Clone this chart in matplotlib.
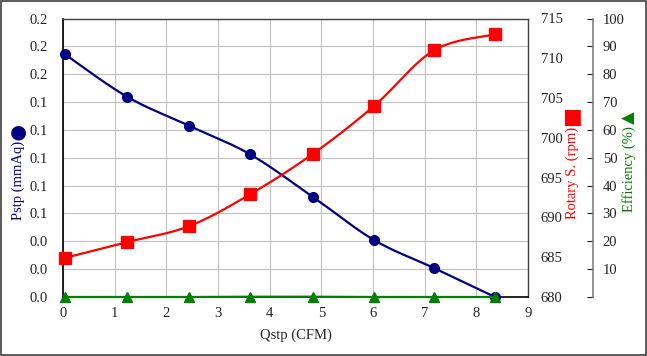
import numpy as np
import matplotlib
matplotlib.use("Agg")
import matplotlib.pyplot as plt
from matplotlib.patches import Rectangle

plt.rcParams['font.family'] = ['Liberation Serif', 'DejaVu Sans']
plt.rcParams['font.size'] = 10.5

# ---- data ----
qstp = [0.03, 1.24, 2.44, 3.62, 4.84, 6.02, 7.18, 8.36]
pstp = [0.1745, 0.1438, 0.1230, 0.1025, 0.0718, 0.0409, 0.0208, 0.0]
rpm = [684.9, 686.9, 688.9, 692.9, 698.0, 704.0, 711.0, 713.0]
eff = [0.0, 0.0, 0.0, 0.1, 0.1, 0.0, 0.0, 0.0]
x_ticks = list(range(0, 10))
p_ticks = [round(0.02 * i, 2) for i in range(11)]
rpm_ticks = list(range(680, 716, 5))
eff_ticks = list(range(0, 101, 10))

BLUE = '#000080'
RED = '#FF0000'
GREEN = '#008000'


def smooth(x, y, xr, yr, n=30):
    """Bezier smoothing (Excel-like) through the data points."""
    x = np.asarray(x, float) / xr
    y = np.asarray(y, float) / yr
    P = np.column_stack([x, y])
    out = [P[0]]
    for i in range(len(P) - 1):
        p0 = P[i - 1] if i > 0 else P[i]
        p1 = P[i]
        p2 = P[i + 1]
        p3 = P[i + 2] if i + 2 < len(P) else P[i + 1]
        c1 = p1 + (p2 - p0) / 6.0
        c2 = p2 - (p3 - p1) / 6.0
        t = np.linspace(0, 1, n)[1:, None]
        seg = ((1 - t) ** 3) * p1 + 3 * ((1 - t) ** 2) * t * c1 + 3 * (1 - t) * t ** 2 * c2 + t ** 3 * p2
        out.extend(seg)
    out = np.array(out)
    return out[:, 0] * xr, out[:, 1] * yr


fig = plt.figure(figsize=(6.47, 3.56), dpi=100)
ax1 = fig.add_axes([63 / 647, 1 - 297 / 356, (528 - 63) / 647, (297 - 18.5) / 356])
ax2 = ax1.twinx()
ax3 = ax1.twinx()

# grid
ax1.set_xlim(0, 9)
ax1.set_ylim(0, 0.2)
ax1.set_xticks(x_ticks)
ax1.set_yticks(p_ticks)
ax1.set_yticklabels([f"{v:.1f}" for v in p_ticks])
ax1.grid(True, color='#c0c0c0', linewidth=0.8)
ax1.set_axisbelow(True)
ax1.tick_params(axis='y', length=0, pad=11, labelsize=10.5, colors='#222222')
ax1.tick_params(axis='x', length=0, pad=7, labelsize=10.5, colors='#222222')
for s in ['top', 'right']:
    ax1.spines[s].set_color('#404040')
    ax1.spines[s].set_linewidth(1.0)
for s in ['left', 'bottom']:
    ax1.spines[s].set_color('#000000')
    ax1.spines[s].set_linewidth(1.2)
ax1.set_xlabel('Qstp (CFM)', fontsize=10.5, color='#222222', labelpad=6)

# Pstp
sx, sy = smooth(qstp, pstp, 9, 0.2)
ax1.plot(sx, sy, color=BLUE, linewidth=1.6, clip_on=False, zorder=3)
ax1.plot(qstp, pstp, linestyle='none', marker='o', markersize=7, color=BLUE, clip_on=False, zorder=4)

# rpm
ax2.set_ylim(680, 715)
ax2.set_yticks(rpm_ticks)
ax2.tick_params(axis='y', length=0, pad=9, labelsize=10.5, colors='#222222')
for s in ax2.spines.values():
    s.set_visible(False)
rx, ry = smooth(qstp, rpm, 9, 35)
ax2.plot(rx, ry, color=RED, linewidth=1.6, clip_on=False, zorder=3)
ax2.plot(qstp, rpm, linestyle='none', marker='s', markersize=8.5, color=RED, clip_on=False, zorder=4)

# efficiency
ax3.set_ylim(0, 100)
ax3.set_yticks(eff_ticks)
ax3.set_yticklabels([''] + [str(v) for v in eff_ticks[1:]])
for s in ['top', 'left', 'bottom']:
    ax3.spines[s].set_visible(False)
ax3.spines['right'].set_position(('outward', 65 * 0.72))
ax3.spines['right'].set_color('#808080')
ax3.spines['right'].set_linewidth(1.2)
ax3.tick_params(axis='y', direction='in', length=4, pad=7, labelsize=10.5, colors='#222222')
ax3.plot(qstp, eff, color=GREEN, linewidth=1.6, clip_on=False, zorder=3)
ax3.plot(qstp, eff, linestyle='none', marker='^', markersize=7, color=GREEN, clip_on=False, zorder=4)

# axis titles with symbols
fig.text(18 / 647, 1 - 180 / 356, 'Pstp (mmAq)', rotation=90, color=BLUE,
         ha='center', va='center', fontsize=10.5)
fig.text(18 / 647, 1 - 132 / 356, '\u25CF', color=BLUE, ha='center', va='center',
         fontsize=14, family=['DejaVu Sans'])
fig.text(572 / 647, 1 - 173 / 356, 'Rotary S. (rpm)', rotation=90, color=RED,
         ha='center', va='center', fontsize=10.5)
fig.text(572 / 647, 1 - 117 / 356, '\u25A0', color=RED, ha='center', va='center',
         fontsize=15, family=['DejaVu Sans'])
fig.text(629 / 647, 1 - 169 / 356, 'Efficiency (%)', rotation=90, color=GREEN,
         ha='center', va='center', fontsize=10.5)
fig.text(629 / 647, 1 - 118 / 356, '\u25B2', rotation=90, color=GREEN, ha='center', va='center',
         fontsize=12, family=['DejaVu Sans'])

# outer frame
fig.patches.append(Rectangle((0.001, 0.002), 0.997, 0.996, transform=fig.transFigure,
                             fill=False, edgecolor='#404040', linewidth=1.2))

fig.savefig('out.png', dpi=100)
